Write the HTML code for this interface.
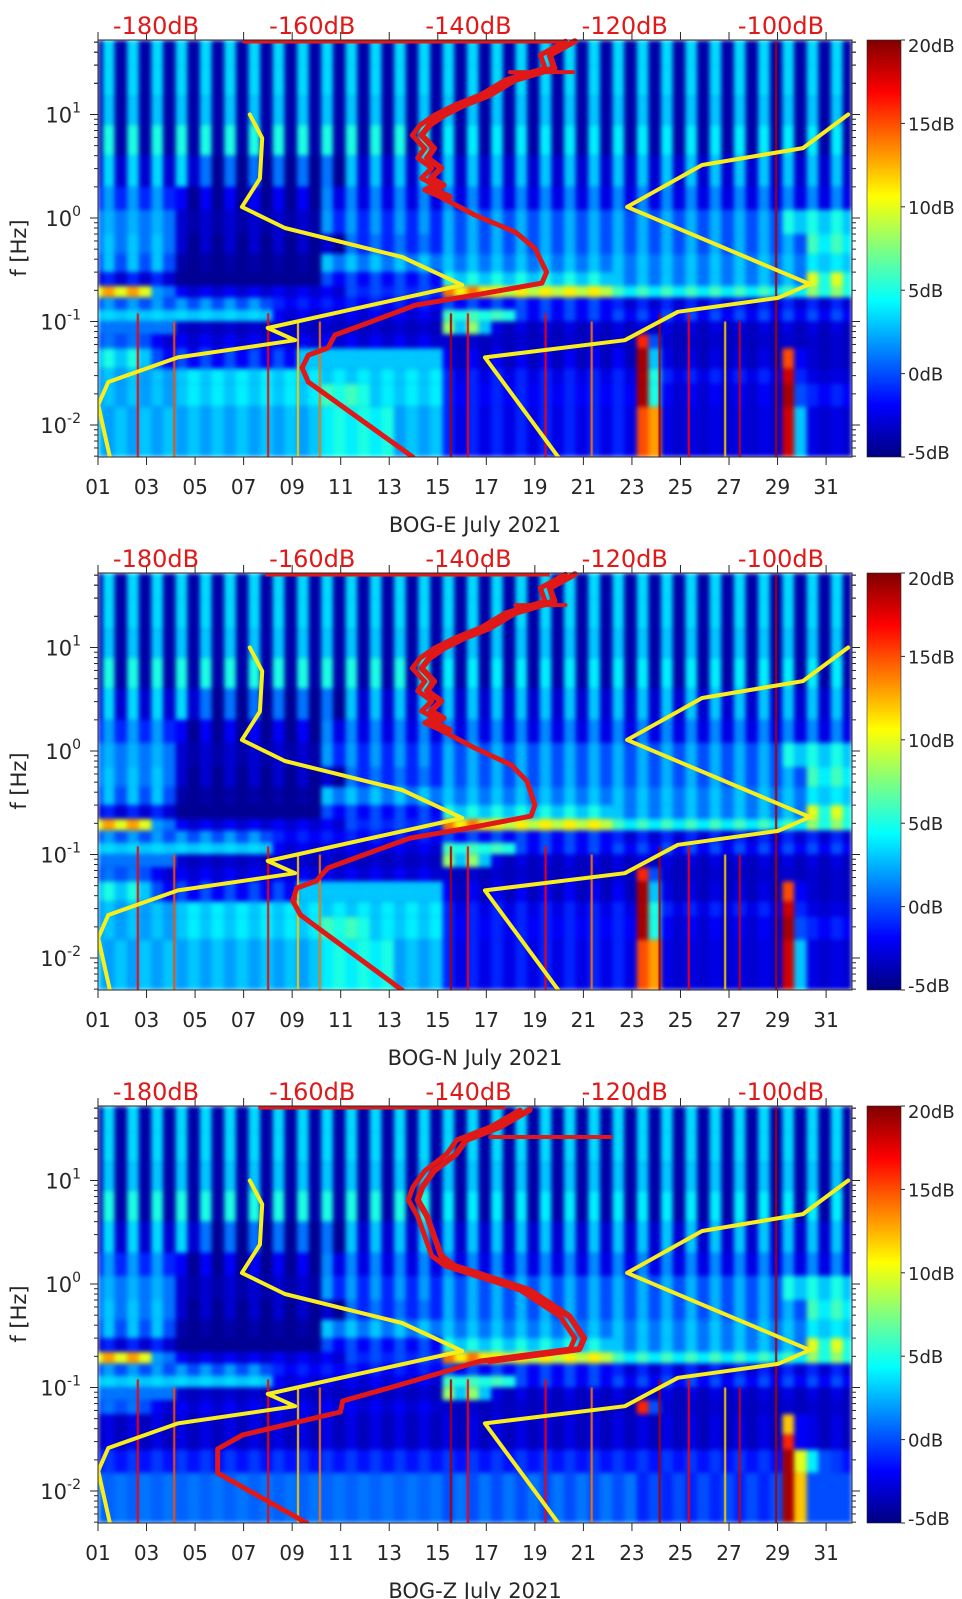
<!DOCTYPE html>
<html><head><meta charset="utf-8">
<style>
body{margin:0;background:#fff;width:962px;height:1599px;position:relative;overflow:hidden;font-family:"DejaVu Sans","Liberation Sans",sans-serif}
canvas{position:absolute}
svg{position:absolute;left:0;top:0}
</style></head>
<body>
<canvas id="c0" width="754" height="417" style="left:98px;top:40px"></canvas>
<canvas id="c1" width="754" height="417" style="left:98px;top:573px"></canvas>
<canvas id="c2" width="754" height="417" style="left:98px;top:1106px"></canvas>
<svg id="ov" width="962" height="1599"></svg>
<script>
// ---------- data ----------
const dayTicks=['01','03','05','07','09','11','13','15','17','19','21','23','25','27','29','31'];
const dbTicks=[-180,-160,-140,-120,-100];
const cbTicks=[20,15,10,5,0,-5];
const yDecades=[-2,-1,0,1];
const panelTitles=['BOG-E July 2021','BOG-N July 2021','BOG-Z July 2021'];
const freqEdges=[60,30,15,8,4,2,1.2,0.7,0.45,0.3,0.22,0.17,0.13,0.1,0.075,0.055,0.035,0.025,0.015,0.004];
// segments per row: [dayFrom, dayTo, dB day-part, dB night-part]
const heatRows=[
 [[1,31,3.5,-4]],
 [[1,31,3.5,-4]],
 [[1,31,3,-4]],
 [[1,14,5,-4],[15,31,4,-4]],
 [[1,4,3.5,-3],[5,10,1,-4.5],[11,31,3,-3]],
 [[1,3,2,-1],[4,9,-2,-4.5],[10,31,1.5,-2.5]],
 [[1,3,2.5,1],[4,9,-3,-4],[10,14,2,-1],[15,28,2.5,0],[29,31,5,3]],
 [[1,3,3,1],[4,10,-3,-4.5],[11,14,1,-1],[15,29,2.5,0],[30,31,6,4]],
 [[1,3,3,0],[4,9,-4,-4.5],[10,14,3,1],[15,29,3,1],[30,31,4,3]],
 [[1,3,-1,-3],[4,9,-4.5,-4.5],[10,14,0,-2],[15,21,5,3],[22,29,3,1],[30,31,10,5]],
 [[1,2,13,10],[3,3,2,1],[4,10,-2,-3],[11,14,0,-1],[15,16,14,11],[17,21,11,9],[22,29,6,4],[30,31,8,5]],
 [[1,7,2,0],[8,14,-1,-2],[15,21,0,-2],[22,31,-1,-3]],
 [[1,7,3.5,3],[8,14,-2,-3],[15,17,6,5],[18,31,0,-2]],
 [[1,3,1,1],[4,14,-3,-3.5],[15,16,8,3],[17,31,-2.5,-3.5]],
 [[1,2,1,0],[3,14,-2,-3],[15,22,-3,-3.5],[23,23,16,0],[24,31,-3,-3.5]],
 [[1,2,5,3],[3,8,0,-2],[9,14,3,3],[15,22,-2,-3.5],[23,23,19,3],[24,28,-2.5,-3.5],[29,29,15,-2],[30,31,-3,-3.5]],
 [[1,3,3,2],[4,14,3,4],[15,22,-1,-2.5],[23,23,19,5],[24,28,-1,-2.5],[29,29,18,-1],[30,31,-2.5,-3]],
 [[1,3,3,2],[4,9,3,4],[10,11,6,5],[12,14,3,4],[15,22,-1,-2],[23,23,19,5],[24,28,-2,-3],[29,29,19,0],[30,31,-1,-2]],
 [[1,9,2,3],[10,12,4,5],[13,14,2,3],[15,22,-1,-2.5],[23,23,15,13],[24,28,-2.5,-3],[29,29,18,3],[30,31,-2.5,-3]]
];
const heatRowsZLow=[
 [[1,31,-2.5,-3.5],[29,29,12,-2]],
 [[1,31,-2.5,-3.5],[29,29,16,-2]],
 [[1,31,-0.5,-1.5],[29,29,19,10],[30,30,4,0]],
 [[1,14,0.5,1],[15,22,0,1],[23,28,-1,0],[29,29,19,12],[30,31,0,0]]
];
const spikeDays=[2.6,4.1,7.97,9.2,10.1,15.5,16.2,19.4,21.3,24.1,25.3,26.8,27.4,28.9];
const spikeVals=[17,15,17,12,14,19,17,17,14,19,17,12,18,19];
const spikeTopHz=[0.12,0.1,0.12,0.1,0.1,0.12,0.12,0.12,0.1,0.12,0.12,0.1,0.1,50];
// noise models (dB, Hz)
const nlnmDb=[-168.0,-166.4,-166.7,-169.0,-163.5,-148.5,-140.8,-165.7,-162.2,-177.2,-186.1,-187.4,-185.9];
const nlnmHz=[10,5.9,2.4,1.28,0.8,0.42,0.225,0.0865,0.066,0.045,0.026,0.0156,0.0049];
const nhnmDb=[-128.5,-137.9,-120.0,-113.2,-100.4,-96.3,-119.7,-110.1,-97.2,-91.4];
const nhnmHz=[0.0049,0.045,0.066,0.124,0.169,0.23,1.28,3.25,4.74,10];
// red PSD curves per panel
const redDbE=[-127.6,-130.8,-130.2,-135.3,-138.5,-141.7,-144.3,-146.2,-147.2,-145.6,-146.5,-144.7,-146.0,-144.4,-145.6,-143.6,-139.2,-134.0,-131.5,-130.0,-130.6,-139.2,-146.8,-153.6,-157.1,-158.0,-160.5,-161.3,-160.5,-147.1];
const redHzE=[51,37.6,28,21.5,15.4,12.4,9.9,7.9,6.3,4.7,3.8,3.04,2.43,2.08,1.87,1.6,1.07,0.73,0.51,0.30,0.235,0.18,0.144,0.0925,0.074,0.0555,0.0474,0.0356,0.026,0.0049];
const redDbN=[-127.6,-130.8,-130.2,-135.3,-138.5,-141.7,-144.3,-146.2,-147.2,-145.6,-146.5,-144.7,-146.0,-144.4,-145.6,-143.6,-139.2,-134.5,-132.5,-131.5,-132.0,-140.0,-147.5,-154.5,-158.0,-159.5,-162.0,-162.5,-161.5,-148.5];
const redHzN=[51,37.6,28,21.5,15.4,12.4,9.9,7.9,6.3,4.7,3.8,3.04,2.43,2.08,1.87,1.6,1.07,0.73,0.51,0.30,0.235,0.18,0.144,0.0925,0.074,0.0555,0.0474,0.0356,0.026,0.0049];
const redDbZ=[-133.4,-137.2,-141.5,-142.8,-145.6,-147.1,-147.7,-146.5,-145.6,-144.7,-143.0,-133.4,-128.3,-126.4,-127.0,-138.5,-148.8,-156.1,-156.4,-168.9,-172.1,-172.1,-160.7];
const redHzZ=[48,32.9,24.6,18,12.4,8.65,6.5,4.5,2.9,1.87,1.5,0.875,0.49,0.30,0.235,0.18,0.106,0.074,0.058,0.0348,0.0255,0.0149,0.0049];
const redTopFrom=[-168.9,-166.0,-166.9];
const redTopTo=[-127.6,-129.6,-135.3];
const spurFrom=[-134.7,-134.0,-137.2];
const spurTo=[-126.6,-127.6,-121.8];
const spurHz=[25.7,25.7,26.3];

// ---------- scales ----------
const X0=98,W=754,H=417,TOPS=[40,573,1106];
function xDay(d){return X0+(d-1)*24.27;}
function xDb(v){return 156+(v+180)*7.8125;}
function yF(f,T){return T+(1.7198-Math.log10(f))*103.5;}
function jet(v){let t=Math.max(0,Math.min(1,(v+5)/25));
 const c=x=>Math.round(255*Math.max(0,Math.min(1,x)));
 return 'rgb('+c(1.5-Math.abs(4*t-3))+','+c(1.5-Math.abs(4*t-2))+','+c(1.5-Math.abs(4*t-1))+')';}

// ---------- heatmaps ----------
function drawHeat(ci,rows){
 const cv=document.getElementById('c'+ci),ctx=cv.getContext('2d');
 const off=document.createElement('canvas');off.width=W;off.height=H;const o=off.getContext('2d');
 o.fillStyle=jet(-4);o.fillRect(0,0,W,H);
 rows.forEach((segs,r)=>{
  let y1=yF(freqEdges[r],0),y2=yF(freqEdges[r+1],0);
  if(r===0)y1=-10; if(r===rows.length-1)y2=H+10;
  segs.forEach(s=>{
   for(let d=s[0];d<=s[1];d++){
    const a=xDay(d+0.2)-X0,b=xDay(d+0.68)-X0,c=xDay(d+1.2)-X0;
    o.fillStyle=jet(s[2]);o.fillRect(a,y1,b-a+0.5,y2-y1);
    o.fillStyle=jet(s[3]);o.fillRect(b,y1,c-b+0.5,y2-y1);
    if(d===1){o.fillStyle=jet(s[3]);o.fillRect(-10,y1,a+10,y2-y1);}
   }
  });
 });
 ctx.filter='blur(2px)';ctx.drawImage(off,0,0);ctx.filter='none';
 spikeDays.forEach((d,i)=>{ctx.fillStyle=jet(spikeVals[i]);const x=xDay(d)-X0;const yt=yF(spikeTopHz[i],0);ctx.fillRect(x,Math.max(0,yt),2,H);});
}
drawHeat(0,heatRows);
drawHeat(1,heatRows);
drawHeat(2,heatRows.slice(0,15).concat(heatRowsZLow));

// ---------- SVG overlay ----------
const NS='http://www.w3.org/2000/svg',svg=document.getElementById('ov');
function el(tag,attrs,parent){const e=document.createElementNS(NS,tag);for(const k in attrs)e.setAttribute(k,attrs[k]);(parent||svg).appendChild(e);return e;}
const defs=el('defs',{});
const grad=el('linearGradient',{id:'jetg',x1:'0',y1:'1',x2:'0',y2:'0'},defs);
[[0,'#000080'],[0.125,'#0000ff'],[0.375,'#00ffff'],[0.625,'#ffff00'],[0.875,'#ff0000'],[1,'#800000']].forEach(s=>el('stop',{offset:s[0],'stop-color':s[1]},grad));
function poly(dbs,hzs,T,color,w,name,g){
 const pts=dbs.map((v,i)=>xDb(v).toFixed(1)+','+yF(hzs[i],T).toFixed(1)).join(' ');
 const p=el('polyline',{points:pts,fill:'none',stroke:color,'stroke-width':w,'stroke-linejoin':'round','stroke-linecap':'round'},g);
 
 
 return p;
}
const redDbs=[redDbE,redDbN,redDbZ],redHzs=[redHzE,redHzN,redHzZ];
const names=['bog-e','bog-n','bog-z'];
TOPS.forEach((T,p)=>{
 const g=el('g',{});
 
 
 const cp=el('clipPath',{id:'cp'+p},defs);el('rect',{x:X0,y:T-3,width:W,height:H+3},cp);
 const lg=el('g',{'clip-path':'url(#cp'+p+')'},g);
 poly(nlnmDb,nlnmHz,T,'#f8ee1c',4,'nlnm-curve',lg);
 poly(nhnmDb,nhnmHz,T,'#f8ee1c',4,'nhnm-curve',lg);
 poly(redDbs[p],redHzs[p],T,'#e01818',5,'psd-curve',lg);
 poly(redDbs[p].slice(0,16).map(v=>v+1.2),redHzs[p].slice(0,16),T,'#e01818',6,'psd-curve-spread',lg);
 poly([spurFrom[p],spurTo[p]],[spurHz[p],spurHz[p]],T,'#e01818',4,'psd-spur',lg);
 const top=el('line',{x1:xDb(redTopFrom[p]),x2:xDb(redTopTo[p]),y1:T+1.5,y2:T+1.5,stroke:'#e01818','stroke-width':4},lg);
 
 
 el('rect',{x:X0,y:T,width:W,height:H,fill:'none',stroke:'#262626','stroke-width':1},g);
 dayTicks.forEach(s=>{const x=xDay(parseInt(s,10));
  el('line',{x1:x,x2:x,y1:T+H,y2:T+H+8,stroke:'#262626'},g);
  el('line',{x1:x,x2:x,y1:T,y2:T-8,stroke:'#262626'},g);
  const t=el('text',{x:x,y:T+H+37,'text-anchor':'middle','font-size':20,fill:'#262626'},g);t.textContent=s;
  
  
 });
 yDecades.forEach(dc=>{
  for(let k=1;k<=9;k++){const f=k*Math.pow(10,dc);const y=yF(f,T);if(y<T-0.5||y>T+H+0.5)continue;
   const L=k===1?8:4;
   el('line',{x1:X0-L,x2:X0,y1:y,y2:y,stroke:'#262626'},g);
   el('line',{x1:X0+W,x2:X0+W+L,y1:y,y2:y,stroke:'#262626'},g);}
  const y=yF(Math.pow(10,dc),T);
  const t=el('text',{x:81,y:y+8,'text-anchor':'end','font-size':21,fill:'#262626'},g);
  
  
  const a=el('tspan',{},t);a.textContent='10';
  const b=el('tspan',{dy:-10,'font-size':14},t);b.textContent=String(dc);
 });
 for(let k=2;k<=5;k++){const y=yF(k*10,T);el('line',{x1:X0-4,x2:X0,y1:y,y2:y,stroke:'#262626'},g);el('line',{x1:X0+W,x2:X0+W+4,y1:y,y2:y,stroke:'#262626'},g);}
 for(let k=5;k<=9;k++){const y=yF(k/1000,T);if(y<=T+H){el('line',{x1:X0-4,x2:X0,y1:y,y2:y,stroke:'#262626'},g);el('line',{x1:X0+W,x2:X0+W+4,y1:y,y2:y,stroke:'#262626'},g);}}
 dbTicks.forEach(v=>{const t=el('text',{x:xDb(v),y:T-6,'text-anchor':'middle','font-size':24,fill:'#e01818'},g);t.textContent=v+'dB';
  
  });
 const yl=el('text',{x:0,y:0,transform:'translate(26,'+(T+208)+') rotate(-90)','text-anchor':'middle','font-size':21,fill:'#262626'},g);yl.textContent='f [Hz]';
 
 
 const xt=el('text',{x:475,y:T+H+75,'text-anchor':'middle','font-size':21,fill:'#262626'},g);xt.textContent=panelTitles[p];
 
 
 const cb=el('rect',{x:867,y:T,width:34,height:H,fill:'url(#jetg)',stroke:'#262626','stroke-width':0.6},g);
 
 
 cbTicks.forEach(v=>{const y=T+H-(v+5)/25*H;
  el('line',{x1:901,x2:905,y1:y,y2:y,stroke:'#262626'},g);
  const t=el('text',{x:908,y:y+(v===20?12:v===-5?2:7),'font-size':18,fill:'#262626'},g);t.textContent=v+'dB';
  
  });
});
</script>
</body></html>
